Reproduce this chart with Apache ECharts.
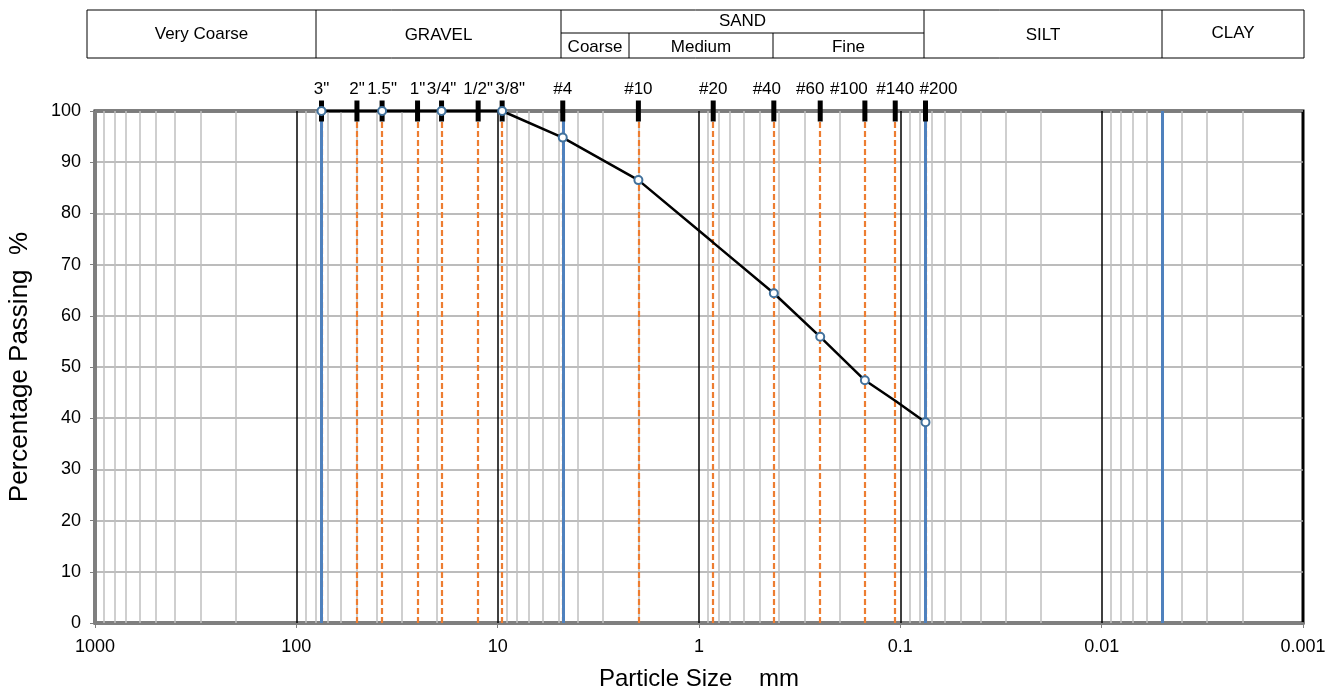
<!DOCTYPE html>
<html>
<head>
<meta charset="utf-8">
<script src="https://cdn.jsdelivr.net/npm/echarts@6/dist/echarts.min.js"></script>
<style>
html,body{margin:0;padding:0;background:#fff;}
#chart{width:1338px;height:692px;}
</style>
</head>
<body>
<div id="chart"></div>
<script>
// ---- data ----
var sieveSizes = [75, 50, 37.5, 25, 19, 12.5, 9.5, 4.75, 2.0, 0.85, 0.425, 0.25, 0.15, 0.106, 0.075];
var sieveLabels = ['3"', '2"', '1.5"', '1"', '3/4"', '1/2"', '3/8"', '#4', '#10', '#20', '#40', '#60', '#100', '#140', '#200'];
var curveSizes = [75, 37.5, 19, 9.5, 4.75, 2.0, 0.85, 0.425, 0.25, 0.15, 0.106, 0.075];
var curvePassing = [100, 100, 100, 100, 94.8, 86.5, 74.3, 64.4, 55.9, 47.4, 43.4, 39.2];
var curveMarked = [true, true, true, true, true, true, false, true, true, true, false, true];
var boundarySizes = [75, 4.75, 0.075, 0.005];
var decadeLines = [100, 10, 1, 0.1, 0.01];
var xTickValues = [1000, 100, 10, 1, 0.1, 0.01, 0.001];
var xTickLabels = ['1000', '100', '10', '1', '0.1', '0.01', '0.001'];
var headerTop = ['Very Coarse', 'GRAVEL', 'SAND', 'SILT', 'CLAY'];
var headerSand = ['Coarse', 'Medium', 'Fine'];

// label nudges (style only, px) so crowded sieve labels do not collide
var labelNudge = { '3/8"': 8, '#40': -7, '#60': -10, '#100': -16, '#200': 13 };

// minor grid positions (2..9 within each decade)
var minorLines = [];
for (var k = -3; k <= 2; k++) {
  for (var m = 2; m <= 9; m++) minorLines.push(m * Math.pow(10, k));
}

var FONT = 'Liberation Sans, Arial, sans-serif';

function vlines(vals) {
  return vals.map(function (v) { return [{ coord: [v, 0] }, { coord: [v, 100] }]; });
}

var chart = echarts.init(document.getElementById('chart'));

// header table graphic
var hy0 = 10, hy1 = 58, hyMid = 33;
var cols = [87, 316, 561, 924, 1162, 1304];
var sandCols = [561, 629, 773, 924];
var g = [];
g.push({ type: 'rect', shape: { x: cols[0], y: hy0, width: cols[5] - cols[0], height: hy1 - hy0 }, style: { fill: '#fff', stroke: '#000', lineWidth: 1 } });
for (var i = 1; i < cols.length - 1; i++) {
  g.push({ type: 'line', shape: { x1: cols[i], y1: hy0, x2: cols[i], y2: hy1 }, style: { stroke: '#000', lineWidth: 1 } });
}
g.push({ type: 'line', shape: { x1: cols[2], y1: hyMid, x2: cols[3], y2: hyMid }, style: { stroke: '#000', lineWidth: 1 } });
for (var j = 1; j < sandCols.length - 1; j++) {
  g.push({ type: 'line', shape: { x1: sandCols[j], y1: hyMid, x2: sandCols[j], y2: hy1 }, style: { stroke: '#000', lineWidth: 1 } });
}
function txt(s, x, y) {
  return { type: 'text', x: x, y: y, style: { text: s, fill: '#000', font: '17px ' + FONT, textAlign: 'center', textVerticalAlign: 'middle' } };
}
g.push(txt(headerTop[0], (cols[0] + cols[1]) / 2, 34));
g.push(txt(headerTop[1], (cols[1] + cols[2]) / 2, 35));
g.push(txt(headerTop[2], (cols[2] + cols[3]) / 2, 21));
g.push(txt(headerTop[3], (cols[3] + cols[4]) / 2, 35));
g.push(txt(headerTop[4], (cols[4] + cols[5]) / 2, 33));
for (var s = 0; s < headerSand.length; s++) {
  g.push(txt(headerSand[s], (sandCols[s] + sandCols[s + 1]) / 2, 47));
}

var option = {
  animation: false,
  textStyle: { fontFamily: FONT },
  graphic: g,
  grid: { left: 95, right: 35, top: 111, bottom: 69, containLabel: false, outerBoundsMode: 'none',
    show: true, borderColor: '#000', borderWidth: 3, backgroundColor: 'transparent' },
  xAxis: {
    type: 'log', logBase: 10, min: 0.001, max: 1000, inverse: true,
    name: 'Particle Size    mm', nameLocation: 'middle', nameGap: 44,
    nameTextStyle: { fontSize: 24, color: '#000', fontFamily: FONT },
    axisLine: { show: true, onZero: false, lineStyle: { color: '#7f7f7f', width: 3 } },
    axisTick: { show: true, length: 5, lineStyle: { color: '#7f7f7f', width: 1 } },
    axisLabel: {
      fontSize: 18, color: '#000', margin: 15, fontFamily: FONT,
      formatter: function (v) {
        var e = Math.round(Math.log10(v));
        for (var i = 0; i < xTickValues.length; i++) if (Math.round(Math.log10(xTickValues[i])) === e) return xTickLabels[i];
        return '';
      }
    },
    splitLine: { show: false }
  },
  yAxis: {
    type: 'value', min: 0, max: 100, interval: 10,
    name: 'Percentage Passing  %', nameLocation: 'middle', nameGap: 62,
    nameTextStyle: { fontSize: 26, color: '#000', fontFamily: FONT },
    axisLine: { show: true, lineStyle: { color: '#7f7f7f', width: 3 } },
    axisTick: { show: true, length: 5, lineStyle: { color: '#7f7f7f' } },
    axisLabel: { fontSize: 18, color: '#000', margin: 14, fontFamily: FONT },
    splitLine: { show: true, lineStyle: { color: '#a6a6a6', width: 1.5 } }
  },
  series: [
    {
      type: 'line', data: [], silent: true, z: 1,
      markLine: { silent: true, symbol: 'none', label: { show: false }, animation: false,
        lineStyle: { color: '#bfbfbf', width: 1.5, type: 'solid' }, data: vlines(minorLines) }
    },
    {
      type: 'line', data: [], silent: true, z: 2,
      markLine: { silent: true, symbol: 'none', label: { show: false }, animation: false,
        lineStyle: { color: '#000', width: 1.5, type: 'solid' }, data: vlines(decadeLines) }
    },
    {
      type: 'line', data: [], silent: true, z: 3,
      markLine: { silent: true, symbol: 'none', label: { show: false }, animation: false,
        lineStyle: { color: '#ed7d31', width: 2.2, type: [6, 3] }, data: vlines(sieveSizes) }
    },
    {
      type: 'line', data: [], silent: true, z: 4,
      markLine: { silent: true, symbol: 'none', label: { show: false }, animation: false,
        lineStyle: { color: '#4f81bd', width: 3, type: 'solid' }, data: vlines(boundarySizes) }
    },
    {
      type: 'scatter', z: 5, clip: false, silent: true,
      data: sieveSizes.map(function (x, i) {
        return { value: [x, 100], name: sieveLabels[i], label: { offset: [labelNudge[sieveLabels[i]] || 0, 0] } };
      }),
      symbol: 'rect', symbolSize: [5, 21],
      itemStyle: { color: '#000', opacity: 1 },
      label: { show: true, position: 'top', distance: 3, fontSize: 17, color: '#000', fontFamily: FONT,
        formatter: function (p) { return p.name; } }
    },
    {
      type: 'line', z: 6, clip: false, silent: true,
      data: curveSizes.map(function (x, i) {
        return curveMarked[i] ? [x, curvePassing[i]] : { value: [x, curvePassing[i]], symbol: 'none' };
      }),
      symbol: 'emptyCircle', symbolSize: 8, showAllSymbol: true,
      lineStyle: { color: '#000', width: 2.5 },
      itemStyle: { color: '#41719c', borderWidth: 2 }
    }
  ]
};
chart.setOption(option);
</script>
</body>
</html>
